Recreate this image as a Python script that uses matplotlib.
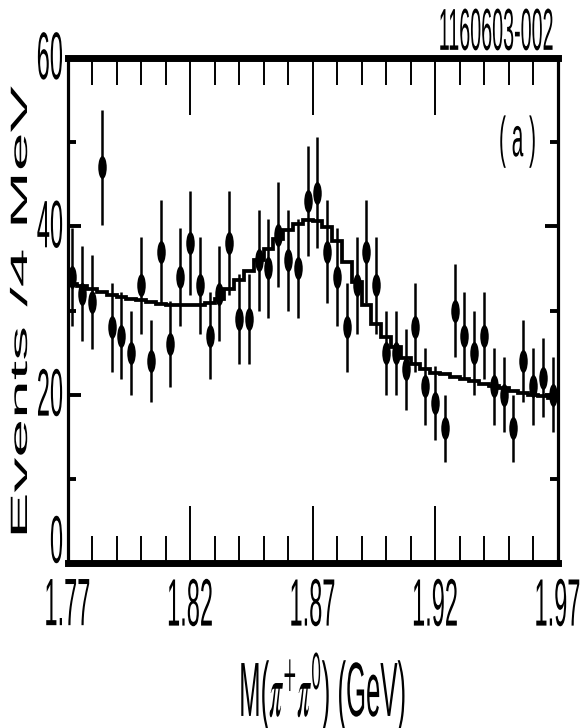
import numpy as np
import matplotlib
matplotlib.use("Agg")
import matplotlib.pyplot as plt
from matplotlib.patheffects import AbstractPathEffect
from matplotlib.transforms import Affine2D
from matplotlib.markers import MarkerStyle
from matplotlib.ticker import FixedLocator

# ---------------- data ----------------
x_range = (1.77, 1.97)
n_bins = 50
counts = [34, 32, 31, 47, 28, 27, 25, 33, 24, 37,
          26, 34, 38, 33, 27, 32, 38, 29, 29, 36,
          35, 39, 36, 35, 43, 44, 37, 34, 28, 33,
          37, 33, 25, 25, 23, 28, 21, 19, 16, 30,
          27, 25, 27, 21, 20, 16, 24, 21, 22, 20]
fit = [33.2, 32.9, 32.6, 32.2, 31.9, 31.6, 31.4, 31.2, 31.0, 30.8,
       30.7, 30.6, 30.6, 30.65, 30.9, 31.4, 32.5, 33.6, 34.7, 36.0,
       37.3, 38.5, 39.6, 40.3, 40.7, 40.6, 39.9, 38.2, 35.8, 33.4,
       30.6, 28.4, 26.8, 25.7, 24.3, 23.7, 23.0, 22.6, 22.4, 22.1,
       21.9, 21.6, 21.3, 21.0, 20.75, 20.4, 20.2, 20.0, 19.8, 19.6]
xticks = [1.77, 1.82, 1.87, 1.92, 1.97]
xtick_labels = ["1.77", "1.82", "1.87", "1.92", "1.97"]
xminor = [1.78, 1.79, 1.80, 1.81, 1.83, 1.84, 1.85, 1.86, 1.88, 1.89,
          1.90, 1.91, 1.93, 1.94, 1.95, 1.96]
yticks = [0, 20, 40, 60]
ytick_labels = ["0", "20", "40", "60"]
yminor = [10, 30, 50]
xlabel = r"M($\pi^{+}\pi^{\mathsf{0}}$) (GeV)"
ylabel = "Events /4 MeV"
panel = "( a )"
figid = "1160603-002"


# ------------- vertical-stretch text effect -------------
class Stretch(AbstractPathEffect):
    def __init__(self, sx=1.0, sy=1.0, hx="center", vy="center"):
        super().__init__()
        self.sx, self.sy, self.hx, self.vy = sx, sy, hx, vy

    def draw_path(self, renderer, gc, tpath, affine, rgbFace=None):
        ext = tpath.get_extents()
        ox = {"left": ext.x0, "center": 0.5 * (ext.x0 + ext.x1),
              "right": ext.x1}[self.hx]
        oy = {"bottom": ext.y0, "center": 0.5 * (ext.y0 + ext.y1),
              "top": ext.y1, "baseline": 0.0}[self.vy]
        t = (Affine2D().translate(-ox, -oy).scale(self.sx, self.sy)
             .translate(ox, oy) + affine)
        renderer.draw_path(gc, tpath, t, rgbFace)


plt.rcParams["font.family"] = ["Liberation Sans", "DejaVu Sans"]
plt.rcParams["mathtext.fontset"] = "stix"

W, H = 587, 728
fig = plt.figure(figsize=(W / 100, H / 100), dpi=100)
L, R, T, B = 67.5, 557.5, 58, 563
ax = fig.add_axes([L / W, (H - B) / H, (R - L) / W, (B - T) / H])

edges = np.linspace(x_range[0], x_range[1], n_bins + 1)
centers = 0.5 * (edges[:-1] + edges[1:])
counts_a = np.array(counts, dtype=float)

ax.stairs(fit, edges, baseline=None, color="black", lw=2.7, zorder=2)
ax.errorbar(centers, counts_a, yerr=np.sqrt(counts_a), fmt="none",
            ecolor="black", elinewidth=1.8, capsize=0, zorder=3)
ell = MarkerStyle("o", transform=Affine2D().scale(0.37, 1.0))
ax.plot(centers, counts_a, ls="none", marker=ell, ms=16.5,
        color="black", mew=0, zorder=4)

ax.set_xlim(*x_range)
ax.set_ylim(0, 60)

for side in ("top", "bottom"):
    ax.spines[side].set_linewidth(5.0)
for side in ("left", "right"):
    ax.spines[side].set_linewidth(2.3)

ax.set_xticks(xticks)
ax.set_xticklabels(xtick_labels)
ax.xaxis.set_minor_locator(FixedLocator(xminor))
ax.set_yticks(yticks)
ax.set_yticklabels(ytick_labels)
ax.yaxis.set_minor_locator(FixedLocator(yminor))

ax.tick_params(axis="x", which="major", direction="in", length=41, width=1.4,
               top=True, bottom=True, pad=11, labelsize=17)
ax.tick_params(axis="x", which="minor", direction="in", length=19.5, width=1.4,
               top=True, bottom=True)
ax.tick_params(axis="y", which="major", direction="in", length=9.5, width=2.8,
               left=True, right=True, pad=3.2, labelsize=17)
ax.tick_params(axis="y", which="minor", direction="in", length=5.5, width=2.8,
               left=True, right=True)

for lab in ax.get_xticklabels():
    lab.set_path_effects([Stretch(1.0, 2.84, "center", "top")])
for lab in ax.get_yticklabels():
    if lab.get_text() == "0":
        lab.set_va("baseline")
        lab.set_path_effects([Stretch(1.0, 2.84, "right", "bottom")])
    else:
        lab.set_va("center")
        lab.set_path_effects([Stretch(1.0, 2.84, "right", "center")])

ax.set_xlabel(xlabel, fontsize=19.5)
ax.xaxis.set_label_coords((323 - L) / (R - L), -(650 - B) / (B - T))
ax.xaxis.label.set_path_effects([Stretch(0.95, 2.84, "center", "top")])

ax.set_ylabel(ylabel, fontsize=17)
ax.yaxis.label.set_va("center")
ax.yaxis.label.set_ha("center")
ax.yaxis.label.set_rotation_mode("anchor")
ax.yaxis.set_label_coords((21 - L) / (R - L), 0.5)
ax.yaxis.label.set_path_effects([Stretch(2.95, 1.0, "center", "center")])

ax.text((517.5 - L) / (R - L), (B - 141.5) / (B - T), panel,
        transform=ax.transAxes, ha="center", va="center", fontsize=15,
        path_effects=[Stretch(1.0, 2.7, "center", "center")])

fig.text(554 / W, 1 - 7.3 / H, figid, ha="right", va="top", fontsize=14.2,
         path_effects=[Stretch(1.0, 3.0, "right", "top")])

fig.savefig("out.png", dpi=100)
